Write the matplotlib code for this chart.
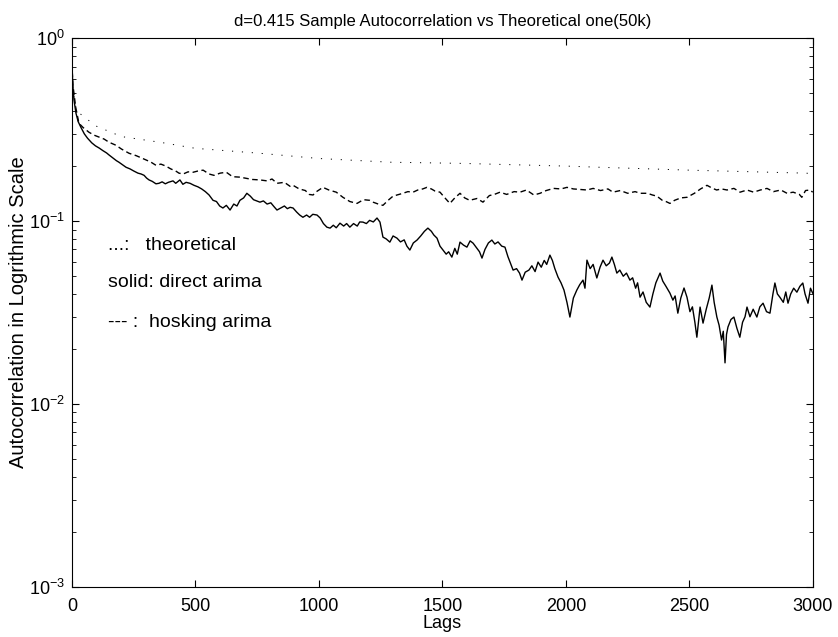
import matplotlib
matplotlib.use("Agg")
import matplotlib.pyplot as plt
from matplotlib.ticker import LogLocator, NullFormatter

plt.rcParams['font.family'] = ['Liberation Sans', 'DejaVu Sans']

# theoretical autocorrelation (dotted)
theo_lags = [1, 2, 5, 10, 20, 50, 100, 200, 356, 500, 761, 1000, 1288, 1571,
             2000, 2138, 2500, 2968, 3000]
theo_vals = [0.70, 0.63, 0.52, 0.45, 0.40, 0.37, 0.33, 0.29, 0.27, 0.25, 0.235,
             0.22, 0.21, 0.207, 0.20, 0.197, 0.19, 0.183, 0.182]

# direct arima sample autocorrelation (solid)
direct_lags = [1, 3, 8, 16, 25, 36, 50, 63, 80, 95, 110, 125, 140, 150, 165, 180,
               190, 205, 219, 235, 250, 267, 280, 292, 302, 312, 325, 340, 352, 365,
               378, 390, 409, 420, 437, 449, 462, 478, 494, 510, 525, 540, 555, 571,
               585, 598, 611, 625, 640, 655, 668, 680, 695, 708, 722, 735, 748, 761,
               775, 790, 805, 818, 830, 845, 860, 872, 883, 895, 910, 922, 935, 950,
               962, 975, 992, 1005, 1018, 1032, 1045, 1058, 1070, 1085, 1100, 1112,
               1125, 1140, 1155, 1165, 1178, 1192, 1205, 1220, 1235, 1247, 1259, 1272,
               1287, 1300, 1316, 1330, 1345, 1356, 1368, 1382, 1397, 1412, 1427, 1441,
               1455, 1465, 1478, 1490, 1502, 1515, 1525, 1538, 1550, 1560, 1571, 1585,
               1599, 1612, 1624, 1640, 1650, 1660, 1672, 1686, 1700, 1712, 1725, 1740,
               1753, 1765, 1775, 1786, 1800, 1812, 1822, 1835, 1850, 1862, 1875, 1887,
               1900, 1912, 1922, 1935, 1945, 1955, 1968, 1980, 1992, 2004, 2016, 2030,
               2044, 2056, 2069, 2077, 2085, 2098, 2110, 2125, 2138, 2150, 2163, 2176,
               2186, 2196, 2206, 2218, 2232, 2245, 2259, 2270, 2282, 2290, 2300, 2312,
               2325, 2340, 2352, 2364, 2381, 2392, 2405, 2421, 2433, 2442, 2453, 2465,
               2478, 2490, 2502, 2512, 2522, 2530, 2543, 2555, 2568, 2580, 2591, 2600,
               2611, 2620, 2630, 2637, 2644, 2650, 2656, 2668, 2680, 2692, 2704, 2715,
               2725, 2733, 2745, 2758, 2773, 2785, 2798, 2812, 2826, 2838, 2846, 2856,
               2866, 2880, 2890, 2899, 2910, 2922, 2935, 2947, 2959, 2968, 2980, 2990,
               2999]
direct_vals = [0.66, 0.56, 0.46, 0.39, 0.35, 0.326, 0.30, 0.284, 0.268, 0.258, 0.251,
               0.243, 0.236, 0.230, 0.222, 0.214, 0.210, 0.203, 0.197, 0.193, 0.188,
               0.183, 0.181, 0.178, 0.172, 0.168, 0.165, 0.160, 0.161, 0.164, 0.160,
               0.163, 0.166, 0.161, 0.168, 0.159, 0.163, 0.161, 0.157, 0.154, 0.150,
               0.145, 0.139, 0.130, 0.128, 0.121, 0.118, 0.122, 0.115, 0.124, 0.121,
               0.130, 0.134, 0.142, 0.137, 0.131, 0.129, 0.127, 0.129, 0.124, 0.126,
               0.120, 0.115, 0.118, 0.121, 0.117, 0.119, 0.118, 0.112, 0.108, 0.105,
               0.108, 0.105, 0.109, 0.108, 0.104, 0.097, 0.0927, 0.0916, 0.095, 0.092,
               0.0975, 0.094, 0.097, 0.0927, 0.097, 0.094, 0.099, 0.0988, 0.097, 0.101,
               0.099, 0.104, 0.0988, 0.0818, 0.080, 0.0768, 0.083, 0.0807, 0.077, 0.079,
               0.073, 0.0695, 0.076, 0.0788, 0.083, 0.088, 0.0916, 0.088, 0.084, 0.0807,
               0.073, 0.0695, 0.066, 0.068, 0.0636, 0.071, 0.066, 0.0768, 0.074, 0.0721,
               0.078, 0.0758, 0.071, 0.068, 0.0628, 0.070, 0.076, 0.0788, 0.075, 0.077,
               0.073, 0.0721, 0.064, 0.059, 0.0540, 0.055, 0.052, 0.0476, 0.0526, 0.054,
               0.057, 0.053, 0.0597, 0.056, 0.061, 0.058, 0.0652, 0.061, 0.055, 0.0494,
               0.046, 0.042, 0.036, 0.0299, 0.038, 0.0420, 0.045, 0.0476, 0.043, 0.0612,
               0.055, 0.058, 0.0489, 0.056, 0.0612, 0.057, 0.059, 0.0636, 0.058, 0.0520,
               0.054, 0.050, 0.052, 0.0476, 0.049, 0.043, 0.046, 0.0384, 0.041, 0.036,
               0.0339, 0.040, 0.046, 0.0520, 0.047, 0.044, 0.0404, 0.037, 0.039, 0.0314,
               0.038, 0.0431, 0.0384, 0.0320, 0.034, 0.028, 0.0232, 0.0339, 0.0277,
               0.033, 0.038, 0.0447, 0.036, 0.0299, 0.027, 0.0224, 0.025, 0.0168, 0.024,
               0.0264, 0.029, 0.0299, 0.026, 0.0232, 0.028, 0.030, 0.0339, 0.030, 0.033,
               0.0299, 0.0340, 0.0356, 0.032, 0.0314, 0.040, 0.0459, 0.040, 0.0384,
               0.036, 0.041, 0.0356, 0.040, 0.043, 0.0409, 0.044, 0.0459, 0.040, 0.0356,
               0.043, 0.0404]

# hosking arima sample autocorrelation (dashed)
hosking_lags = [1, 4, 15, 28, 45, 69, 90, 110, 130, 150, 178, 200, 231, 260, 280, 300,
                320, 340, 360, 380, 400, 420, 433, 450, 470, 490, 510, 531, 555, 575,
                600, 625, 650, 680, 700, 730, 761, 790, 810, 830, 860, 883, 895, 920,
                945, 960, 976, 990, 1016, 1040, 1070, 1097, 1125, 1154, 1180, 1205,
                1219, 1240, 1259, 1280, 1300, 1316, 1340, 1360, 1381, 1400, 1420, 1437,
                1455, 1470, 1490, 1510, 1530, 1550, 1571, 1590, 1610, 1640, 1664, 1690,
                1710, 1733, 1760, 1790, 1814, 1840, 1870, 1895, 1920, 1950, 1980, 2004,
                2030, 2060, 2085, 2110, 2140, 2170, 2190, 2220, 2250, 2280, 2300, 2330,
                2350, 2368, 2390, 2405, 2421, 2440, 2465, 2490, 2520, 2545, 2571, 2590,
                2610, 2630, 2652, 2680, 2705, 2733, 2760, 2787, 2814, 2840, 2870, 2895,
                2920, 2945, 2955, 2970, 2988, 2999]
hosking_vals = [0.66, 0.55, 0.42, 0.343, 0.325, 0.306, 0.295, 0.288, 0.281, 0.270,
                0.260, 0.248, 0.235, 0.228, 0.222, 0.216, 0.210, 0.202, 0.205, 0.200,
                0.193, 0.188, 0.183, 0.181, 0.186, 0.185, 0.188, 0.190, 0.181, 0.178,
                0.183, 0.185, 0.175, 0.174, 0.172, 0.169, 0.168, 0.166, 0.170, 0.161,
                0.163, 0.155, 0.157, 0.150, 0.147, 0.140, 0.139, 0.145, 0.153, 0.148,
                0.144, 0.135, 0.128, 0.125, 0.131, 0.130, 0.127, 0.124, 0.122, 0.130,
                0.137, 0.139, 0.142, 0.145, 0.144, 0.148, 0.150, 0.153, 0.150, 0.146,
                0.144, 0.134, 0.125, 0.134, 0.142, 0.134, 0.130, 0.133, 0.127, 0.138,
                0.140, 0.144, 0.140, 0.145, 0.144, 0.148, 0.139, 0.142, 0.147, 0.151,
                0.150, 0.153, 0.150, 0.149, 0.148, 0.151, 0.147, 0.150, 0.144, 0.147,
                0.142, 0.145, 0.142, 0.142, 0.139, 0.137, 0.130, 0.128, 0.125, 0.130,
                0.134, 0.135, 0.142, 0.150, 0.157, 0.152, 0.148, 0.150, 0.148, 0.151,
                0.144, 0.148, 0.144, 0.148, 0.151, 0.145, 0.148, 0.142, 0.144, 0.140,
                0.135, 0.147, 0.148, 0.144]

legend_lines = ["...:   theoretical", "solid: direct arima", "--- :  hosking arima"]
legend_y = [0.074, 0.0464, 0.028]

fig = plt.figure(figsize=(8.38, 6.37), dpi=100)
ax = fig.add_axes([0.0859, 0.0785, 0.8842, 0.8615])

ax.plot(theo_lags, theo_vals, color='black', lw=0.7, linestyle=(0, (1.2, 9.0)))
ax.plot(direct_lags, direct_vals, color='black', lw=1.0)
ax.plot(hosking_lags, hosking_vals, color='black', lw=1.0, linestyle=(0, (4, 2.5)))

for txt, yy in zip(legend_lines, legend_y):
    ax.text(146, yy, txt, fontsize=14, va='center', ha='left')

ax.set_yscale('log')
ax.set_xlim(0, 3000)
ax.set_ylim(1e-3, 1)
ax.set_xticks([0, 500, 1000, 1500, 2000, 2500, 3000])
ax.yaxis.set_minor_locator(LogLocator(base=10, subs=range(2, 10), numticks=20))
ax.yaxis.set_minor_formatter(NullFormatter())
ax.tick_params(which='both', direction='in', top=True, right=True, labelsize=13)
ax.tick_params(axis='x', pad=8)
ax.tick_params(axis='y', pad=5)
ax.tick_params(which='major', length=5, width=0.8)
ax.tick_params(which='minor', length=3, width=0.6)

ax.set_xlabel('Lags', fontsize=13, labelpad=0)
ax.set_ylabel('Autocorrelation in Logrithmic Scale', fontsize=14.5, labelpad=1)
ax.set_title('d=0.415 Sample Autocorrelation vs Theoretical one(50k)', fontsize=12, pad=9)

fig.savefig('out.png', dpi=100)
